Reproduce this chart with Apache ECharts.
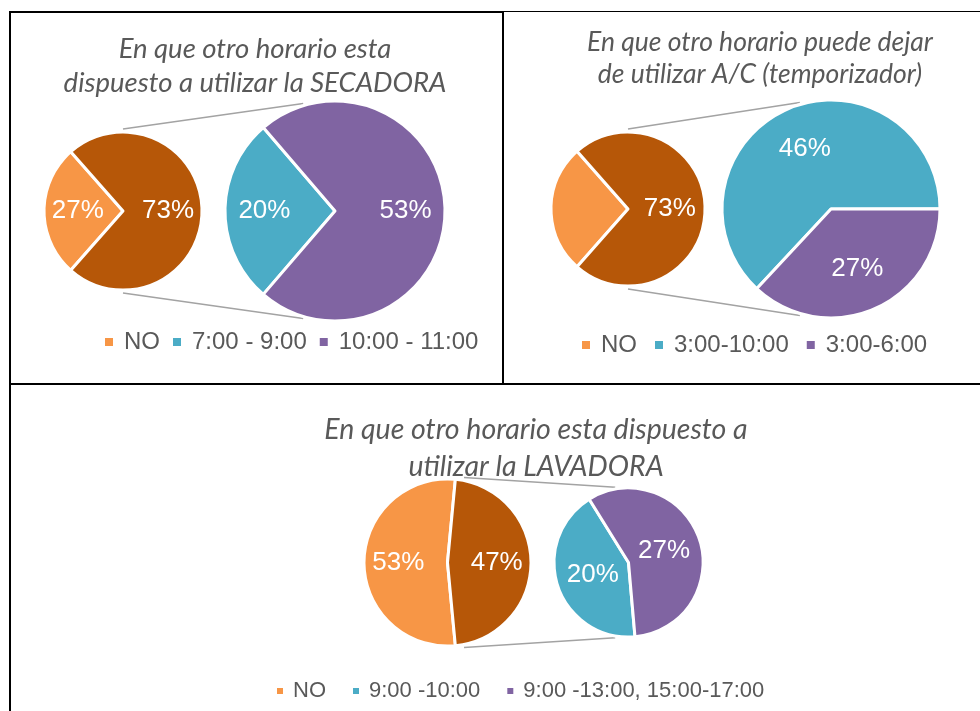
<!DOCTYPE html>
<html lang="es">
<head>
<meta charset="UTF-8">
<title>Horarios</title>
<script src="https://cdn.jsdelivr.net/npm/echarts@6/dist/echarts.min.js"></script>
<style>html,body{margin:0;padding:0;background:#fff;}</style>
</head>
<body>
<div id="main" style="width:980px;height:711px;"></div>
<script type="text/javascript">
    // datos de cada grafico (porcentajes sobre el total)
    var secadoraTitulo = 'En que otro horario esta\ndispuesto a utilizar la SECADORA';
    var secadoraNombres = ['NO', '7:00 - 9:00', '10:00 - 11:00'];
    var secadoraValores = [27, 20, 53];

    var acTitulo = 'En que otro horario puede dejar\nde utilizar A/C (temporizador)';
    var acNombres = ['NO', '3:00-10:00', '3:00-6:00'];
    var acValores = [27, 46, 27];

    var lavadoraTitulo = 'En que otro horario esta dispuesto a\nutilizar la LAVADORA';
    var lavadoraNombres = ['NO', '9:00 -10:00', '9:00 -13:00, 15:00-17:00'];
    var lavadoraValores = [53, 20, 27];

    var colores = ['#F79646', '#4BACC6', '#8064A2'];
    var colorOtro = '#B65708';

    var myChart = echarts.init(document.getElementById('main'));

    var series = [];
    var graphic = [];

    // anillo transparente para colocar la etiqueta a k*r del centro
    function anillo(r, k) {
        var L = r * k;
        var r0 = Math.max(0, 2 * L - r);
        return [r0, 2 * L - r0];
    }

    function punto(c, r, ang) {
        var a = ang * Math.PI / 180;
        return [c[0] + r * Math.cos(a), c[1] - r * Math.sin(a)];
    }

    // g: geometria del grafico
    function pieDePie(nombres, valores, g) {
        var otro = 0;
        for (var i = 1; i < valores.length; i++) otro += valores[i];
        var principal = [
            {name: nombres[0], value: valores[0], itemStyle: {color: colores[0]}},
            {name: 'Otro', value: otro, itemStyle: {color: colorOtro}}
        ];
        var secundario = [];
        for (var j = 1; j < nombres.length; j++) {
            secundario.push({name: nombres[j], value: valores[j], itemStyle: {color: colores[j]}});
        }
        var base = {
            type: 'pie',
            clockwise: true,
            avoidLabelOverlap: false,
            label: {show: false},
            labelLine: {show: false},
            emphasis: {disabled: true},
            itemStyle: {borderColor: '#fff', borderWidth: 3}
        };
        series.push(Object.assign({}, base, {
            center: g.c1, radius: [0, g.r1 + 1], startAngle: g.a1, data: principal
        }));
        series.push(Object.assign({}, base, {
            center: g.c2, radius: [0, g.r2 + 1], startAngle: g.a2, data: secundario
        }));
        var etiqueta = {
            show: true, position: 'inside', formatter: '{c}%',
            color: '#fff', fontSize: 26, fontFamily: 'Liberation Sans'
        };
        function capa(datos, c, r, k, ang) {
            return {
                type: 'pie', silent: true, clockwise: true, avoidLabelOverlap: false,
                center: c, radius: anillo(r, k), startAngle: ang,
                itemStyle: {color: 'rgba(0,0,0,0)', borderWidth: 0},
                emphasis: {disabled: true},
                label: etiqueta, labelLine: {show: false},
                data: datos.map(function (d) {
                    var o = {name: d.name, value: d.value};
                    if (g.sinEtiqueta && g.sinEtiqueta.indexOf(d.name) >= 0) o.label = {show: false};
                    return o;
                })
            };
        }
        series.push(capa(principal, g.c1, g.r1, g.k1, g.a1));
        series.push(capa(secundario, g.c2, g.r2, g.k2, g.a2));

        // lineas de union
        var p1 = punto(g.c1, g.r1 + 4, g.u1), q1 = punto(g.c2, g.r2 + 3, g.u2);
        var p2 = punto(g.c1, g.r1 + 4, -g.u1), q2 = punto(g.c2, g.r2 + 3, -g.u2);
        [[p1, q1], [p2, q2]].forEach(function (l) {
            graphic.push({
                type: 'line', silent: true, z: 0,
                shape: {x1: l[0][0], y1: l[0][1], x2: l[1][0], y2: l[1][1]},
                style: {stroke: '#a3a3a3', lineWidth: 1.5}
            });
        });
    }

    pieDePie(secadoraNombres, secadoraValores, {
        c1: [123, 211], r1: 78, a1: 228.6, k1: 0.54,
        c2: [335, 211], r2: 109, a2: 229.3, k2: 0.62,
        u1: 90, u2: 106.5
    });
    pieDePie(acNombres, acValores, {
        c1: [628, 209], r1: 76, a1: 228.6, k1: 0.51,
        c2: [831, 209], r2: 108, a2: 227, k2: 0.58,
        u1: 90, u2: 106.3, sinEtiqueta: ['NO']
    });
    pieDePie(lavadoraNombres, lavadoraValores, {
        c1: [447.5, 562.5], r1: 82.5, a1: 275.4, k1: 0.56,
        c2: [628.5, 562.5], r2: 73.5, a2: 275, k2: 0.47,
        u1: 79, u2: 100
    });

    // bordes de la tabla
    [
        [9, 12, 503, 12, 2], [503, 11.5, 980, 11.5, 1],
        [10, 11, 10, 711, 2], [503, 11, 503, 385, 2],
        [9, 384, 980, 384, 2]
    ].forEach(function (b) {
        graphic.push({
            type: 'line', silent: true,
            shape: {x1: b[0], y1: b[1], x2: b[2], y2: b[3]},
            style: {stroke: '#000', lineWidth: b[4]}
        });
    });

    function estiloTitulo(tam, alto) {
        return {
            fontFamily: 'Lato', fontStyle: 'italic', fontWeight: 'normal',
            fontSize: tam, lineHeight: alto, color: '#595959'
        };
    }
    var estiloLeyenda = {fontFamily: 'Liberation Sans', fontSize: 24, color: '#595959', padding: [0, 0, 0, 5]};

    var option = {
        backgroundColor: '#fff',
        animation: false,
        title: [
            {text: secadoraTitulo, left: 255, top: 32, padding: 0, textAlign: 'center',
                textStyle: estiloTitulo(27.5, 34)},
            {text: acTitulo, left: 760, top: 26, padding: 0, textAlign: 'center',
                textStyle: estiloTitulo(26.5, 32)},
            {text: lavadoraTitulo, left: 536, top: 411, padding: 0, textAlign: 'center',
                textStyle: estiloTitulo(28.5, 37)}
        ],
        legend: [
            {data: secadoraNombres, left: 103, top: 330, padding: 0, icon: 'rect',
                itemWidth: 10, itemHeight: 10, itemGap: 11, textStyle: estiloLeyenda},
            {data: acNombres, left: 580, top: 333, padding: 0, icon: 'rect',
                itemWidth: 10, itemHeight: 10, itemGap: 16, textStyle: estiloLeyenda},
            {data: lavadoraNombres, left: 275, top: 680, padding: 0, icon: 'rect',
                itemWidth: 8, itemHeight: 8, itemGap: 25,
                textStyle: Object.assign({}, estiloLeyenda, {fontSize: 22, padding: [0, 0, 0, 4]})}
        ],
        graphic: graphic,
        series: series
    };

    myChart.setOption(option);
</script>
</body>
</html>
